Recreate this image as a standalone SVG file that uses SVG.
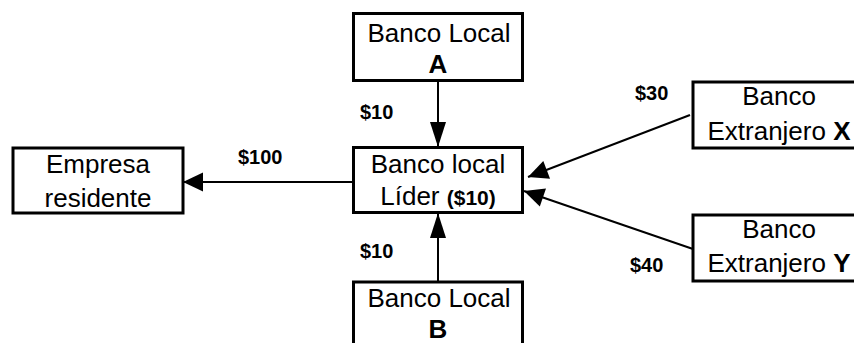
<svg xmlns="http://www.w3.org/2000/svg" width="854" height="343" viewBox="0 0 854 343">
<style>
.box{fill:#fff;stroke:#000;stroke-width:3}
.t{font-family:"Liberation Sans",Arial,sans-serif;font-size:26px;fill:#000;text-anchor:middle}
.b{font-weight:bold}
.lbl{font-family:"Liberation Sans",Arial,sans-serif;font-size:20px;font-weight:bold;fill:#000}
.c{stroke:#000;stroke-width:2;fill:none}
</style>
<defs>
<marker id="ahv" markerUnits="userSpaceOnUse" markerWidth="26" markerHeight="18" refX="25" refY="8" orient="auto" overflow="visible"><path d="M0,0 L25,8 L0,16 z" fill="#000"/></marker>
<marker id="ah" markerUnits="userSpaceOnUse" markerWidth="22" markerHeight="20" refX="20" refY="9.5" orient="auto" overflow="visible"><path d="M0,0 L20,9.5 L0,19 z" fill="#000"/></marker>
</defs>
<rect width="854" height="343" fill="#fff"/>
<g id="connectors">
<line class="c" x1="438" y1="81" x2="438" y2="147" marker-end="url(#ahv)"/>
<line class="c" x1="438" y1="282" x2="438" y2="213" marker-end="url(#ahv)"/>
<line class="c" x1="353" y1="182" x2="183" y2="182" marker-end="url(#ah)"/>
<line class="c" x1="690" y1="115" x2="528" y2="177" marker-end="url(#ah)"/>
<line class="c" x1="693" y1="249" x2="524" y2="191" marker-end="url(#ah)"/>
<text class="lbl" x="360" y="119">$10</text>
<text class="lbl" x="360" y="258">$10</text>
<text class="lbl" x="238" y="164">$100</text>
<text class="lbl" x="635" y="100">$30</text>
<text class="lbl" x="630" y="272">$40</text>
</g>
<g id="bancoA">
<rect class="box" x="353.5" y="13.5" width="169" height="67"/>
<text class="t" x="439" y="42">Banco Local</text>
<text class="t b" x="438" y="73">A</text>
</g>
<g id="lider">
<rect class="box" x="353.5" y="147.5" width="169" height="65"/>
<text class="t" x="438" y="173">Banco local</text>
<text class="t" x="438" y="205">Líder <tspan class="b" font-size="21">($10)</tspan></text>
</g>
<g id="bancoB">
<rect class="box" x="353.5" y="282" width="169" height="80"/>
<text class="t" x="439" y="307">Banco Local</text>
<text class="t b" x="438" y="338">B</text>
</g>
<g id="empresa">
<rect class="box" x="13" y="148" width="170" height="65"/>
<text class="t" x="98" y="173">Empresa</text>
<text class="t" x="98" y="207">residente</text>
</g>
<g id="bancoX">
<rect class="box" x="693" y="82" width="175" height="66"/>
<text class="t" x="779" y="105">Banco</text>
<text class="t" x="779" y="140">Extranjero <tspan class="b">X</tspan></text>
</g>
<g id="bancoY">
<rect class="box" x="693" y="215" width="175" height="66"/>
<text class="t" x="779" y="238">Banco</text>
<text class="t" x="779" y="272">Extranjero <tspan class="b">Y</tspan></text>
</g>
</svg>
